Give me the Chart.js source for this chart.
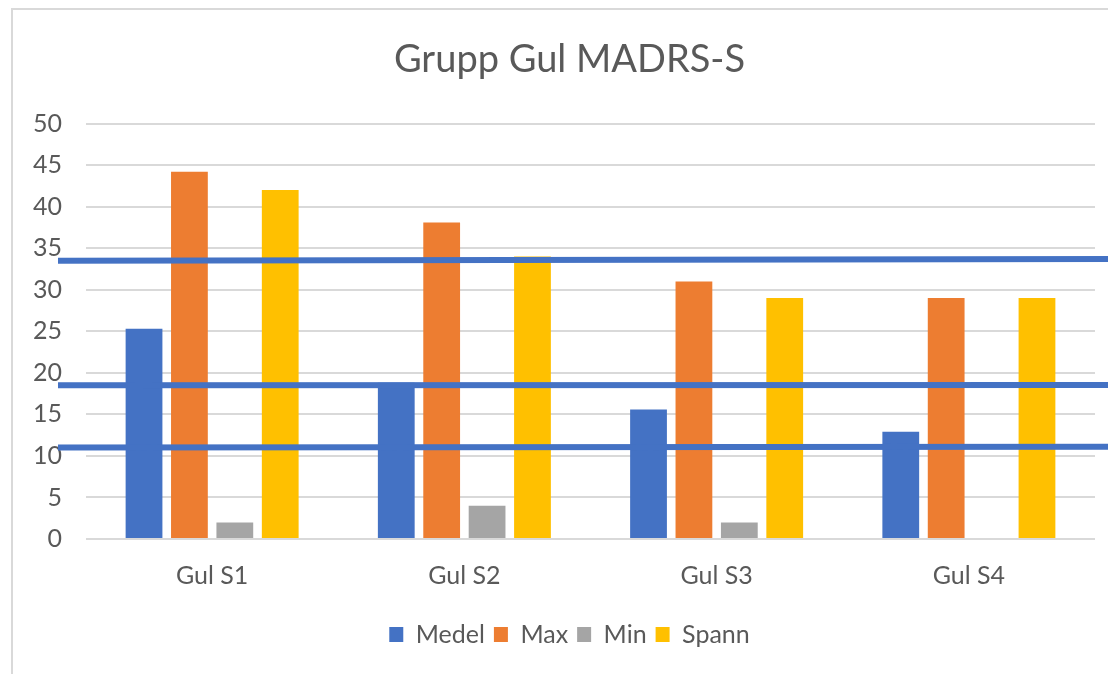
<!DOCTYPE html>
<html>
<head>
<meta charset="utf-8">
<script src="https://cdn.jsdelivr.net/npm/chart.js@4"></script>
<style>
  html, body { margin: 0; padding: 0; background: #fff; }
  #wrap { width: 1108px; height: 674px; position: relative; }
</style>
</head>
<body>
<div id="wrap"><canvas id="chart"></canvas></div>
<script>
const categories = ['Gul S1', 'Gul S2', 'Gul S3', 'Gul S4']
const medel = [25.3, 18.8, 15.6, 12.9]
const maxValues = [44.2, 38.1, 31, 29]
const minValues = [2, 4, 2, 0]
const spann = [42, 34, 29, 29]
const yTicks = [0, 5, 10, 15, 20, 25, 30, 35, 40, 45, 50]

// hand drawn reference lines, value at left end and right end
const refLineStart = [33.5, 18.5, 11.0]
const refLineEnd = [33.7, 18.55, 11.1]

const textColor = '#595959'
const font = 'Lato'

const frame = {
  id: 'frame',
  beforeDraw(chart) {
    const ctx = chart.ctx
    ctx.save()
    ctx.strokeStyle = '#d9d9d9'
    ctx.lineWidth = 2
    ctx.beginPath()
    ctx.moveTo(12, chart.height)
    ctx.lineTo(12, 9)
    ctx.lineTo(chart.width, 9)
    ctx.stroke()
    ctx.restore()
  }
}

const refLines = {
  id: 'refLines',
  afterDatasetsDraw(chart) {
    const ctx = chart.ctx
    const y = chart.scales.y
    ctx.save()
    ctx.strokeStyle = '#4472C4'
    ctx.lineWidth = 6
    refLineStart.forEach((v, i) => {
      ctx.beginPath()
      ctx.moveTo(58, y.getPixelForValue(v))
      ctx.lineTo(chart.width, y.getPixelForValue(refLineEnd[i]))
      ctx.stroke()
    })
    ctx.restore()
  }
}

const data = {
  labels: categories,
  datasets: [
    { label: 'Medel', data: medel, backgroundColor: '#4472C4' },
    { label: 'Max', data: maxValues, backgroundColor: '#ED7D31' },
    { label: 'Min', data: minValues, backgroundColor: '#A5A5A5' },
    { label: 'Spann', data: spann, backgroundColor: '#FFC000' }
  ]
}

const options = {
  responsive: true,
  maintainAspectRatio: false,
  animation: false,
  categoryPercentage: 0.72,
  barPercentage: 0.81,
  layout: { padding: { left: 31, right: 0, top: 10, bottom: 17 } },
  plugins: {
    title: {
      display: true,
      text: 'Grupp Gul MADRS-S',
      color: textColor,
      font: { family: font, size: 38, weight: 'normal' },
      padding: { top: 27, bottom: 41 }
    },
    legend: {
      position: 'bottom',
      labels: {
        color: textColor,
        font: { family: font, size: 25 },
        boxWidth: 14,
        boxHeight: 15,
        padding: 9
      }
    },
    tooltip: { enabled: false }
  },
  scales: {
    x: {
      grid: { display: false, drawTicks: false },
      border: { display: false },
      ticks: { color: textColor, font: { family: font, size: 25 }, padding: 22 }
    },
    y: {
      min: 0,
      max: 50,
      afterFit(scale) { scale.width = 55 },
      afterBuildTicks(scale) { scale.ticks = yTicks.map(v => ({ value: v })) },
      grid: { color: '#d9d9d9', lineWidth: 2, drawTicks: false },
      border: { display: false },
      ticks: { color: textColor, font: { family: font, size: 25 }, padding: 24 }
    },
    // empty right axis, only keeps the plot off the right edge
    y2: {
      position: 'right',
      afterFit(scale) { scale.width = 13 },
      grid: { display: false, drawTicks: false },
      border: { display: false },
      ticks: { display: false }
    }
  }
}

new Chart(document.getElementById('chart'), {
  type: 'bar',
  data: data,
  options: options,
  plugins: [frame, refLines]
})
</script>
</body>
</html>
